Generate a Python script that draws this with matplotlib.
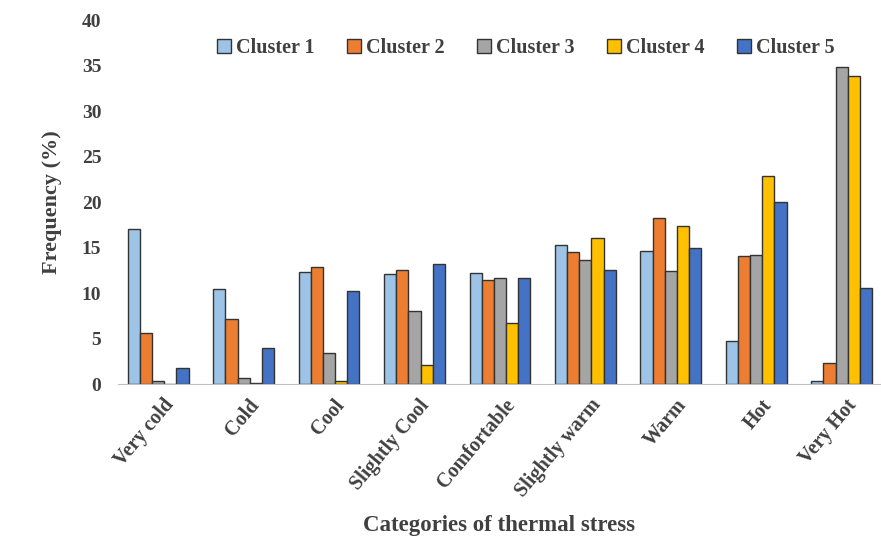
import numpy as np
import matplotlib.pyplot as plt

categories = ["Very cold", "Cold", "Cool", "Slightly Cool", "Comfortable",
              "Slightly warm", "Warm", "Hot", "Very Hot"]
cluster1 = [17.1, 10.5, 12.3, 12.1, 12.2, 15.3, 14.6, 4.8, 0.3]
cluster2 = [5.6, 7.2, 12.9, 12.6, 11.5, 14.5, 18.3, 14.1, 2.3]
cluster3 = [0.3, 0.7, 3.4, 8.1, 11.7, 13.7, 12.4, 14.2, 34.9]
cluster4 = [0.0, 0.1, 0.3, 2.1, 6.7, 16.1, 17.4, 22.9, 33.9]
cluster5 = [1.8, 4.0, 10.2, 13.2, 11.7, 12.6, 15.0, 20.0, 10.6]
series = {"Cluster 1": cluster1, "Cluster 2": cluster2, "Cluster 3": cluster3,
          "Cluster 4": cluster4, "Cluster 5": cluster5}
colors = ["#9DC3E6", "#ED7D31", "#A5A5A5", "#FFC000", "#4472C4"]

plt.rcParams["font.family"] = ["Liberation Serif", "DejaVu Serif"]
plt.rcParams["font.weight"] = "bold"

fig = plt.figure(figsize=(8.81, 5.45), dpi=100)
ax = fig.add_axes([0.134, 0.295, 0.865, 0.668])

x = np.arange(len(categories))
w = 0.142
for i, (name, vals) in enumerate(series.items()):
    ax.bar(x + (i - 2) * w, vals, w, color=colors[i], edgecolor="#333333",
           linewidth=1.0, label=name)

ax.set_xlim(-0.47, len(categories) - 0.55)
ax.set_ylim(0, 40)
ax.set_yticks(range(0, 41, 5))
ax.set_xticks(x + 0.05)
ax.set_xticklabels(categories, rotation=50, ha="right", rotation_mode="anchor",
                   fontsize=14.5, fontweight="bold", color="#404040")
ax.tick_params(axis="y", length=0, labelsize=14, labelcolor="#404040", pad=12)
ax.tick_params(axis="x", length=0, pad=8)
for s in ["top", "right", "left"]:
    ax.spines[s].set_visible(False)
ax.spines["bottom"].set_color("#bfbfbf")

ax.set_ylabel("Frequency (%)", fontsize=16, fontweight="bold", color="#404040", labelpad=14)
ax.set_xlabel("Categories of thermal stress", fontsize=16.5, fontweight="bold",
              color="#404040", labelpad=10)

leg = ax.legend(loc="upper center", bbox_to_anchor=(0.535, 1.0), ncol=5, frameon=False,
                fontsize=14.5, handlelength=0.7, handleheight=0.7, handletextpad=0.25,
                columnspacing=1.6)
for t in leg.get_texts():
    t.set_color("#404040")

fig.savefig("out.png", dpi=100)
plt.close(fig)
